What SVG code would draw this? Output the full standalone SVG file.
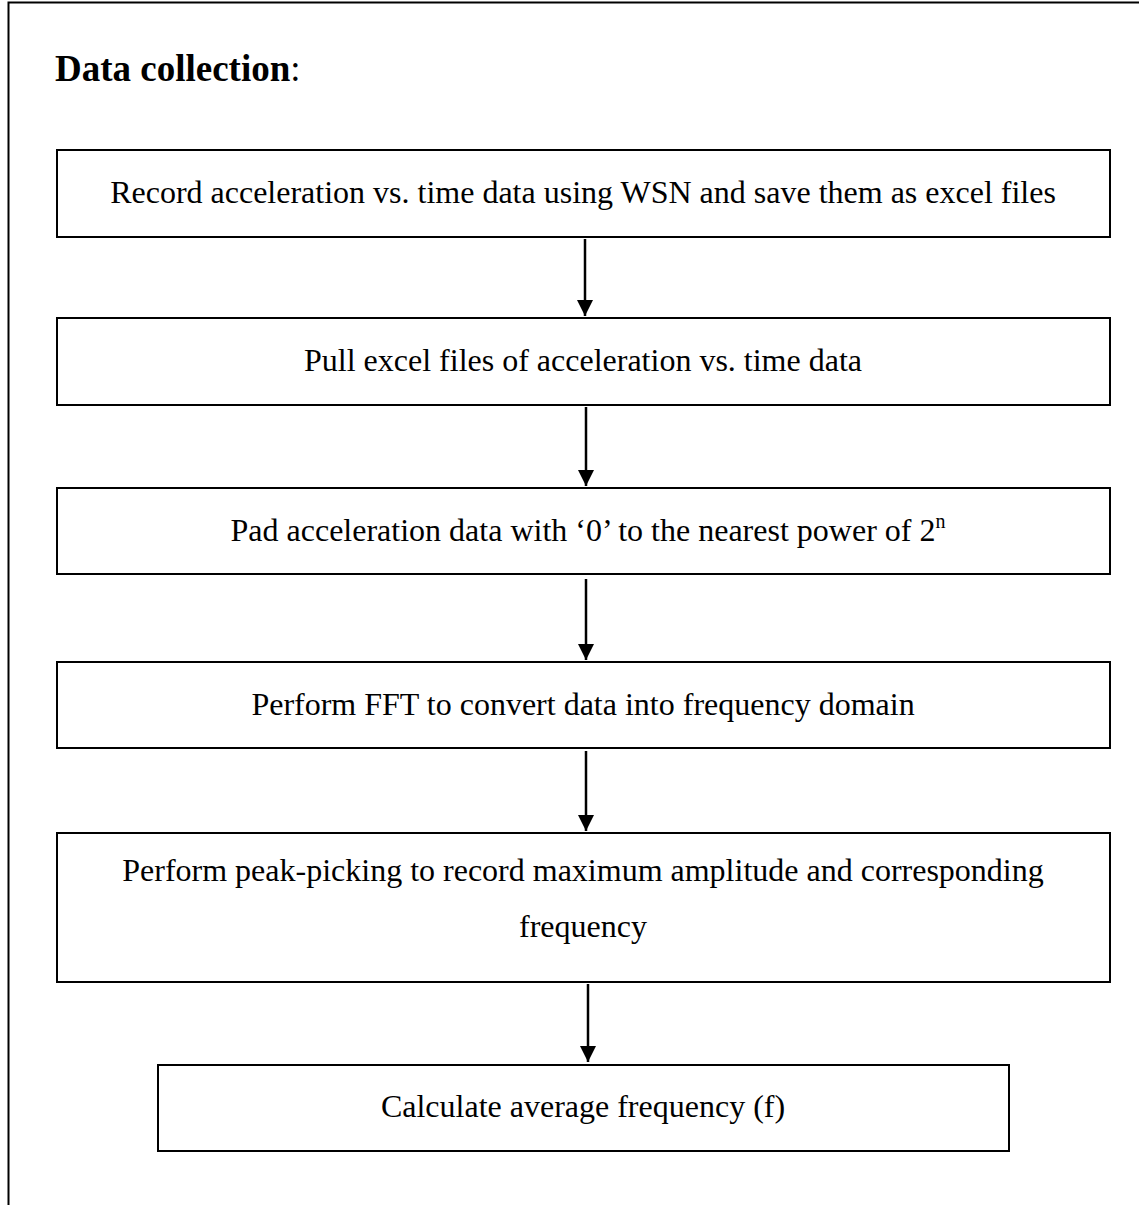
<svg xmlns="http://www.w3.org/2000/svg" width="1140" height="1205" viewBox="0 0 1140 1205">
<defs>
<marker id="ah" viewBox="0 0 16 16" refX="16" refY="8" markerWidth="16" markerHeight="16" markerUnits="userSpaceOnUse" orient="auto">
<path d="M0,0 L16,8 L0,16 Z" fill="#000"/>
</marker>
<style>
.box{fill:#fff;stroke:#000;stroke-width:2}
.t{font-family:"Liberation Serif","Times New Roman",serif;font-size:32px;fill:#000;text-anchor:middle}
.c{stroke:#000;stroke-width:2.5;fill:none;marker-end:url(#ah)}
</style>
</defs>
<rect width="1140" height="1205" fill="#fff"/>
<g id="frame"><path d="M8.5,1205 V2.5 H1139" fill="none" stroke="#000" stroke-width="2"/></g>
<text x="55" y="81" font-family="Liberation Serif,serif" font-size="37" fill="#000"><tspan font-weight="bold">Data collection</tspan>:</text>
<g id="n1"><rect class="box" x="57" y="150" width="1053" height="87"/><text class="t" x="583" y="203">Record acceleration vs. time data using WSN and save them as excel files</text></g>
<g id="n2"><rect class="box" x="57" y="318" width="1053" height="87"/><text class="t" x="583" y="371">Pull excel files of acceleration vs. time data</text></g>
<g id="n3"><rect class="box" x="57" y="488" width="1053" height="86"/><text class="t" x="588" y="541">Pad acceleration data with ‘0’ to the nearest power of 2<tspan font-size="20" dy="-13">n</tspan></text></g>
<g id="n4"><rect class="box" x="57" y="662" width="1053" height="86"/><text class="t" x="583" y="715">Perform FFT to convert data into frequency domain</text></g>
<g id="n5"><rect class="box" x="57" y="833" width="1053" height="149"/><text class="t" x="583" y="881">Perform peak-picking to record maximum amplitude and corresponding</text><text class="t" x="583" y="937">frequency</text></g>
<g id="n6"><rect class="box" x="158" y="1065" width="851" height="86"/><text class="t" x="583" y="1117">Calculate average frequency (f)</text></g>
<g id="connectors">
<line class="c" x1="585" y1="239" x2="585" y2="316"/>
<line class="c" x1="586" y1="407" x2="586" y2="486"/>
<line class="c" x1="586" y1="579" x2="586" y2="660"/>
<line class="c" x1="586" y1="751" x2="586" y2="831"/>
<line class="c" x1="588" y1="984" x2="588" y2="1062"/>
</g>
</svg>
